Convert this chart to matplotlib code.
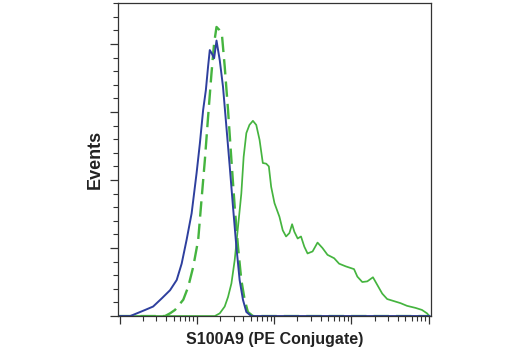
"""Flow cytometry histogram: S100A9 (PE Conjugate) vs Events."""

import numpy as np
import matplotlib
matplotlib.use("Agg")
import matplotlib.pyplot as plt
from matplotlib.ticker import LogLocator, MultipleLocator, NullFormatter

# log10 fluorescence intensity and relative event counts
blue_log = [0.98, 1.138, 1.224, 1.331, 1.434, 1.546, 1.653, 1.739, 1.803, 1.867,
            1.932, 1.996, 2.039, 2.081, 2.116, 2.145, 2.167, 2.193, 2.223, 2.254,
            2.296, 2.338, 2.382, 2.425, 2.467, 2.511, 2.553, 2.596, 2.640, 2.704, 5.01]
blue_events = [0, 0, 0.04, 0.09, 0.14, 0.26, 0.38, 0.53, 0.77, 1.12,
               1.51, 2.10, 2.54, 3.03, 3.32, 3.67, 3.91, 3.86, 3.79, 4.05,
               3.76, 3.37, 2.78, 2.20, 1.61, 1.02, 0.53, 0.24, 0.06, 0, 0]

dashed_log = [0.98, 1.588, 1.653, 1.717, 1.824, 1.888, 1.952, 2.017, 2.060, 2.103,
              2.145, 2.189, 2.223, 2.254, 2.287, 2.326, 2.360, 2.403, 2.447, 2.489,
              2.532, 2.575, 2.618, 2.660, 2.725, 5.01]
dashed_events = [0, 0, 0.04, 0.09, 0.24, 0.43, 0.72, 1.12, 1.71, 2.29,
                 2.93, 3.57, 4.01, 4.25, 4.21, 4.11, 3.67, 3.03, 2.29, 1.61,
                 1.02, 0.53, 0.24, 0.06, 0, 0]

green_log = [0.98, 2.232, 2.296, 2.360, 2.403, 2.447, 2.489, 2.532, 2.575, 2.605, 2.640,
             2.680, 2.725, 2.768, 2.811, 2.853, 2.897, 2.931, 2.961, 3.004, 3.068,
             3.111, 3.154, 3.197, 3.232, 3.261, 3.304, 3.347, 3.390, 3.432, 3.497,
             3.561, 3.625, 3.690, 3.776, 3.840, 3.927, 4.033, 4.076, 4.140, 4.205,
             4.278, 4.333, 4.398, 4.462, 4.548, 4.634, 4.719, 4.828, 4.912, 4.977,
             5.008]
green_events = [0, 0, 0.04, 0.14, 0.28, 0.48, 0.82, 1.31, 1.80, 2.34, 2.69,
                2.81, 2.87, 2.81, 2.59, 2.25, 2.24, 2.20, 1.90, 1.66, 1.46,
                1.26, 1.17, 1.22, 1.35, 1.24, 1.14, 1.17, 1.02, 0.92, 0.95,
                1.08, 1.00, 0.90, 0.85, 0.77, 0.73, 0.69, 0.58, 0.50, 0.51,
                0.57, 0.46, 0.33, 0.25, 0.22, 0.19, 0.15, 0.12, 0.09, 0.04,
                0]

BLUE = "#2e3f9e"
GREEN = "#45b43f"

fig = plt.figure(figsize=(5.2, 3.5), dpi=100)
ax = fig.add_axes([0.227, 0.097, 0.602, 0.894])

ax.plot(10 ** np.array(green_log), green_events, color=GREEN, lw=1.25)
ax.plot(10 ** np.array(dashed_log), dashed_events, color=GREEN, lw=1.7,
        dashes=(6.5, 3))
ax.plot(10 ** np.array(blue_log), blue_events, color=BLUE, lw=1.4)

ax.set_xscale("log")
ax.set_xlim(10 ** 0.98, 10 ** 5.03)
ax.set_ylim(0, 4.6)

ax.xaxis.set_major_locator(LogLocator(base=10, numticks=10))
ax.xaxis.set_minor_locator(LogLocator(base=10, subs=np.arange(2, 10), numticks=20))
ax.xaxis.set_major_formatter(NullFormatter())
ax.xaxis.set_minor_formatter(NullFormatter())
ax.yaxis.set_major_locator(MultipleLocator(1))
ax.yaxis.set_minor_locator(MultipleLocator(0.2))
ax.yaxis.set_major_formatter(NullFormatter())

ax.tick_params(which="major", length=6, width=0.9, color="#333333", direction="out")
ax.tick_params(which="minor", length=3.5, width=0.8, color="#333333", direction="out")
for s in ax.spines.values():
    s.set_color("#333333")
    s.set_linewidth(0.9)

font = ["Liberation Sans", "DejaVu Sans"]
ax.set_xlabel("S100A9 (PE Conjugate)", family=font, fontweight="bold",
              fontsize=11.5, color="#222222", labelpad=2)
ax.set_ylabel("Events", family=font, fontweight="bold", fontsize=13,
              color="#222222", labelpad=1)

fig.savefig("out.png", dpi=100)
